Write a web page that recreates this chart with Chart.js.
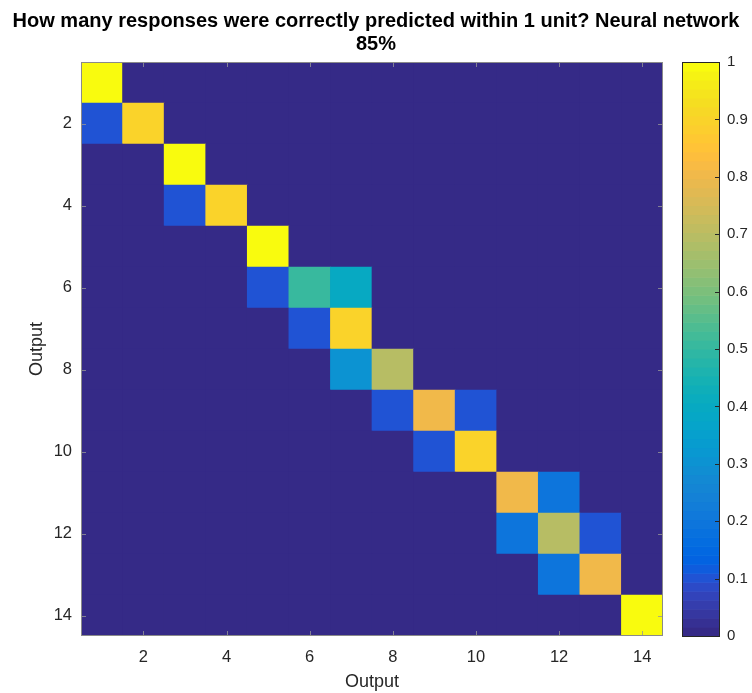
<!DOCTYPE html>
<html>
<head>
<meta charset="utf-8">
<script src="https://cdn.jsdelivr.net/npm/chart.js@4.4.1/dist/chart.umd.min.js"></script>
<style>
  html, body { margin: 0; padding: 0; background: #fff; }
  #wrap { width: 752px; height: 693px; }
</style>
</head>
<body>
<div id="wrap"><canvas id="heat" width="752" height="693"></canvas></div>
<script>
// matrix rows (top to bottom) and columns (left to right)
const rowLabels = [1, 2, 3, 4, 5, 6, 7, 8, 9, 10, 11, 12, 13, 14];
const colLabels = [1, 2, 3, 4, 5, 6, 7, 8, 9, 10, 11, 12, 13, 14];

// share of responses, one line per row
const values = [
  [1, 0, 0, 0, 0, 0, 0, 0, 0, 0, 0, 0, 0, 0],
  [0.1, 0.9, 0, 0, 0, 0, 0, 0, 0, 0, 0, 0, 0, 0],
  [0, 0, 1, 0, 0, 0, 0, 0, 0, 0, 0, 0, 0, 0],
  [0, 0, 0.1, 0.9, 0, 0, 0, 0, 0, 0, 0, 0, 0, 0],
  [0, 0, 0, 0, 1, 0, 0, 0, 0, 0, 0, 0, 0, 0],
  [0, 0, 0, 0, 0.1, 0.5, 0.4, 0, 0, 0, 0, 0, 0, 0],
  [0, 0, 0, 0, 0, 0.1, 0.9, 0, 0, 0, 0, 0, 0, 0],
  [0, 0, 0, 0, 0, 0, 0.3, 0.7, 0, 0, 0, 0, 0, 0],
  [0, 0, 0, 0, 0, 0, 0, 0.1, 0.8, 0.1, 0, 0, 0, 0],
  [0, 0, 0, 0, 0, 0, 0, 0, 0.1, 0.9, 0, 0, 0, 0],
  [0, 0, 0, 0, 0, 0, 0, 0, 0, 0, 0.8, 0.2, 0, 0],
  [0, 0, 0, 0, 0, 0, 0, 0, 0, 0, 0.2, 0.7, 0.1, 0],
  [0, 0, 0, 0, 0, 0, 0, 0, 0, 0, 0, 0.2, 0.8, 0],
  [0, 0, 0, 0, 0, 0, 0, 0, 0, 0, 0, 0, 0, 1],
];

const xTicks = [2, 4, 6, 8, 10, 12, 14];
const yTicks = [2, 4, 6, 8, 10, 12, 14];
const cbTicks = [0, 0.1, 0.2, 0.3, 0.4, 0.5, 0.6, 0.7, 0.8, 0.9, 1];

// parula, 64 steps
const parula = [
  [0.2081, 0.1663, 0.5292], [0.2116, 0.1898, 0.5777], [0.2123, 0.2138, 0.6270], [0.2081, 0.2386, 0.6771],
  [0.1959, 0.2645, 0.7279], [0.1707, 0.2919, 0.7792], [0.1253, 0.3242, 0.8303], [0.0591, 0.3598, 0.8683],
  [0.0117, 0.3875, 0.8820], [0.0060, 0.4086, 0.8828], [0.0165, 0.4266, 0.8786], [0.0329, 0.4430, 0.8720],
  [0.0498, 0.4586, 0.8641], [0.0629, 0.4737, 0.8554], [0.0723, 0.4887, 0.8467], [0.0779, 0.5040, 0.8384],
  [0.0793, 0.5200, 0.8312], [0.0749, 0.5375, 0.8263], [0.0641, 0.5570, 0.8240], [0.0488, 0.5772, 0.8228],
  [0.0343, 0.5966, 0.8199], [0.0265, 0.6137, 0.8135], [0.0239, 0.6287, 0.8038], [0.0231, 0.6418, 0.7913],
  [0.0228, 0.6535, 0.7768], [0.0267, 0.6642, 0.7607], [0.0384, 0.6743, 0.7436], [0.0590, 0.6838, 0.7254],
  [0.0843, 0.6928, 0.7062], [0.1133, 0.7015, 0.6859], [0.1453, 0.7098, 0.6646], [0.1801, 0.7177, 0.6424],
  [0.2178, 0.7250, 0.6193], [0.2586, 0.7317, 0.5954], [0.3022, 0.7376, 0.5712], [0.3482, 0.7424, 0.5473],
  [0.3953, 0.7459, 0.5244], [0.4420, 0.7481, 0.5033], [0.4871, 0.7491, 0.4840], [0.5300, 0.7491, 0.4661],
  [0.5709, 0.7485, 0.4494], [0.6099, 0.7473, 0.4337], [0.6473, 0.7456, 0.4188], [0.6834, 0.7435, 0.4044],
  [0.7184, 0.7411, 0.3905], [0.7525, 0.7384, 0.3768], [0.7858, 0.7356, 0.3633], [0.8185, 0.7327, 0.3498],
  [0.8507, 0.7299, 0.3360], [0.8824, 0.7274, 0.3217], [0.9139, 0.7258, 0.3063], [0.9450, 0.7261, 0.2886],
  [0.9739, 0.7314, 0.2666], [0.9938, 0.7455, 0.2403], [0.9990, 0.7653, 0.2164], [0.9955, 0.7861, 0.1967],
  [0.9880, 0.8066, 0.1794], [0.9789, 0.8271, 0.1633], [0.9697, 0.8481, 0.1475], [0.9626, 0.8705, 0.1309],
  [0.9589, 0.8949, 0.1132], [0.9598, 0.9218, 0.0948], [0.9661, 0.9514, 0.0755], [0.9763, 0.9831, 0.0538],
];

function colorFor(v) {
  let i = Math.floor(v * parula.length);
  i = Math.max(0, Math.min(parula.length - 1, i));
  const c = parula[i];
  return "rgb(" + Math.round(c[0] * 255) + "," + Math.round(c[1] * 255) + "," + Math.round(c[2] * 255) + ")";
}

const FONT = "'Liberation Sans', Arial, Helvetica, sans-serif";
const AXIS_COLOR = "#262626";

// one floating bar per cell
const cells = [];
rowLabels.forEach((r, ri) => {
  colLabels.forEach((c, ci) => {
    cells.push({ x: c, y: [r - 0.5, r + 0.5], v: values[ri][ci] });
  });
});

// fixed box sizes so the plot sits where the original does
function fixBox(size, key) {
  return (s) => {
    s[key] = size;
    s.paddingTop = 0;
    s.paddingBottom = 0;
    s.paddingLeft = 0;
    s.paddingRight = 0;
  };
}

// plot background, inner tick marks, box and colorbar
const framePlugin = {
  id: "frame",
  beforeDatasetsDraw(chart) {
    const { ctx, chartArea: a } = chart;
    ctx.save();
    ctx.fillStyle = colorFor(0);
    ctx.fillRect(a.left, a.top, a.width, a.height);
    ctx.restore();
  },
  afterDatasetsDraw(chart) {
    const { ctx, chartArea: a, scales } = chart;
    ctx.save();
    ctx.lineWidth = 1;
    ctx.strokeStyle = "rgba(150,150,150,0.8)";
    ctx.beginPath();
    xTicks.forEach((t) => {
      const px = Math.round(scales.x.getPixelForValue(t)) + 0.5;
      ctx.moveTo(px, a.bottom); ctx.lineTo(px, a.bottom - 5);
      ctx.moveTo(px, a.top); ctx.lineTo(px, a.top + 5);
    });
    yTicks.forEach((t) => {
      const py = Math.round(scales.y.getPixelForValue(t)) + 0.5;
      ctx.moveTo(a.left, py); ctx.lineTo(a.left + 5, py);
      ctx.moveTo(a.right, py); ctx.lineTo(a.right - 5, py);
    });
    ctx.stroke();
    ctx.strokeStyle = "#8a8a8a";
    ctx.strokeRect(a.left + 0.5, a.top + 0.5, a.width - 1, a.height - 1);

    // colorbar
    const cb = scales.cb;
    const bx = a.right + 19, bw = 37;
    const n = parula.length;
    for (let i = 0; i < n; i++) {
      const y0 = cb.getPixelForValue(i / n);
      const y1 = cb.getPixelForValue((i + 1) / n);
      ctx.fillStyle = colorFor((i + 0.5) / n);
      ctx.fillRect(bx, y1, bw, y0 - y1 + 0.6);
    }
    ctx.strokeStyle = AXIS_COLOR;
    ctx.strokeRect(bx + 0.5, cb.top + 0.5, bw, cb.bottom - cb.top);
    ctx.beginPath();
    cbTicks.forEach((t) => {
      const py = Math.round(cb.getPixelForValue(t)) + 0.5;
      ctx.moveTo(bx + bw, py); ctx.lineTo(bx + bw - 4, py);
    });
    ctx.stroke();
    ctx.restore();
  },
};

new Chart(document.getElementById("heat"), {
  type: "bar",
  data: {
    datasets: [
      {
        data: cells,
        backgroundColor: (ctx) => colorFor(ctx.raw ? ctx.raw.v : 0),
        borderWidth: 0,
        barPercentage: 1,
        categoryPercentage: 1,
      },
    ],
  },
  options: {
    responsive: false,
    animation: false,
    devicePixelRatio: 1,
    layout: { padding: { left: 0, right: 0, top: 0, bottom: 0 } },
    plugins: {
      legend: { display: false },
      tooltip: { enabled: false },
      title: {
        display: true,
        text: ["How many responses were correctly predicted within 1 unit? Neural network", "85%"],
        color: "#000",
        font: { family: FONT, size: 20, weight: "bold", lineHeight: 1.15 },
        padding: { top: 10, bottom: 6 },
      },
    },
    scales: {
      x: {
        type: "linear",
        position: "bottom",
        min: 0.5,
        max: 14.5,
        offset: false,
        grid: { display: false, drawTicks: false },
        border: { display: false },
        afterBuildTicks: (s) => { s.ticks = xTicks.map((v) => ({ value: v })); },
        afterFit: fixBox(57, "height"),
        ticks: { color: AXIS_COLOR, padding: 11.5, font: { family: FONT, size: 16.5 }, maxRotation: 0 },
        title: { display: true, text: "Output", color: AXIS_COLOR, font: { family: FONT, size: 18 }, padding: { top: 0, bottom: 0 } },
      },
      y: {
        type: "linear",
        position: "left",
        reverse: true,
        min: 0.5,
        max: 14.5,
        grid: { display: false, drawTicks: false },
        border: { display: false },
        afterBuildTicks: (s) => { s.ticks = yTicks.map((v) => ({ value: v })); },
        afterFit: fixBox(81, "width"),
        ticks: { color: AXIS_COLOR, padding: 9, font: { family: FONT, size: 16.5 } },
        title: { display: true, text: "Output", color: AXIS_COLOR, font: { family: FONT, size: 18 }, padding: { top: 26, bottom: 0 } },
      },
      cb: {
        type: "linear",
        position: "right",
        min: 0,
        max: 1,
        grid: { display: false, drawTicks: false },
        border: { display: false },
        afterBuildTicks: (s) => { s.ticks = cbTicks.map((v) => ({ value: v })); },
        afterFit: fixBox(89, "width"),
        ticks: { color: AXIS_COLOR, padding: 64, font: { family: FONT, size: 15 }, callback: (v) => String(v) },
      },
    },
  },
  plugins: [framePlugin],
});
</script>
</body>
</html>
